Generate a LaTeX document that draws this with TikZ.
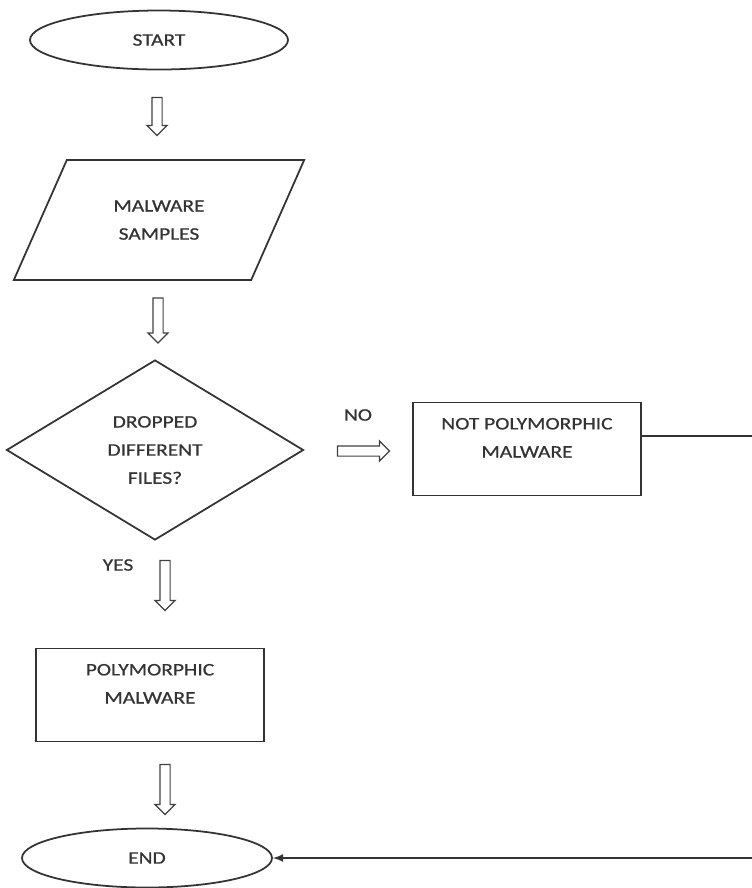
\documentclass[tikz,border=0pt]{standalone}
\usepackage{fontspec}
\setmainfont{Carlito}[FakeStretch=1.22,FakeBold=0.6]
\usetikzlibrary{shapes.geometric,shapes.arrows,arrows}

\begin{document}
\begin{tikzpicture}[x=0.2mm,y=-0.2mm]
    \tikzstyle{every node}=[font=\fontsize{10}{16}\selectfont, text=black!80]
    \tikzstyle{term}=[ellipse, draw=black!80, line width=1pt, minimum width=51.6mm, minimum height=11.8mm]
    \tikzstyle{io}=[trapezium, trapezium left angle=60, trapezium right angle=120, trapezium stretches=true, draw=black!80, line width=1pt, minimum width=58.4mm, minimum height=24mm, align=center]
    \tikzstyle{decide}=[diamond, draw=black!80, line width=1pt, minimum width=59.4mm, minimum height=36mm, inner sep=0pt, align=center]
    \tikzstyle{proc}=[rectangle, draw=black!80, line width=1pt, minimum width=45.6mm, minimum height=18.6mm, align=center, text depth=4.5mm]
    \tikzstyle{hollow}=[single arrow, draw=black!75, line width=0.7pt, inner sep=0.9mm, minimum width=0pt, single arrow head extend=1mm, single arrow head indent=0pt]
    \tikzstyle{connect}=[-latex, line width=1pt, draw=black!80]
    \useasboundingbox (0,0) rectangle (752,888);

      \node[term] (start) at (159,40) {START};
      \node[hollow, minimum height=7.6mm, shape border rotate=270] (a1) at (157,114) {};
      \node[io] (samples) at (159,220) {MALWARE\\SAMPLES};
      \node[hollow, minimum height=9mm, shape border rotate=270] (a2) at (158,318) {};
      \node[decide] (drop) at (155,450) {DROPPED\\DIFFERENT\\FILES?};
      \node (no) at (358,415) {NO};
      \node[hollow, minimum height=10.4mm] (a3) at (361,451) {};
      \node[proc] (npm) at (527,449) {NOT POLYMORPHIC\\MALWARE};
      \node (yes) at (118,565) {YES};
      \node[hollow, minimum height=10mm, shape border rotate=270] (a4) at (165,583) {};
      \node[proc] (pm) at (150,695) {POLYMORPHIC\\MALWARE};
      \node[hollow, minimum height=10mm, shape border rotate=270] (a5) at (165,787) {};
      \node[term, minimum width=50mm] (end) at (147,858) {END};

      % return line runs off the right edge
      \coordinate (out) at ([yshift=2.6mm]npm.east);
      \coordinate (rb) at (762,858);
      \draw[connect] (out) -- (out -| rb) -- (rb) -- (end.east);
\end{tikzpicture}
\end{document}
